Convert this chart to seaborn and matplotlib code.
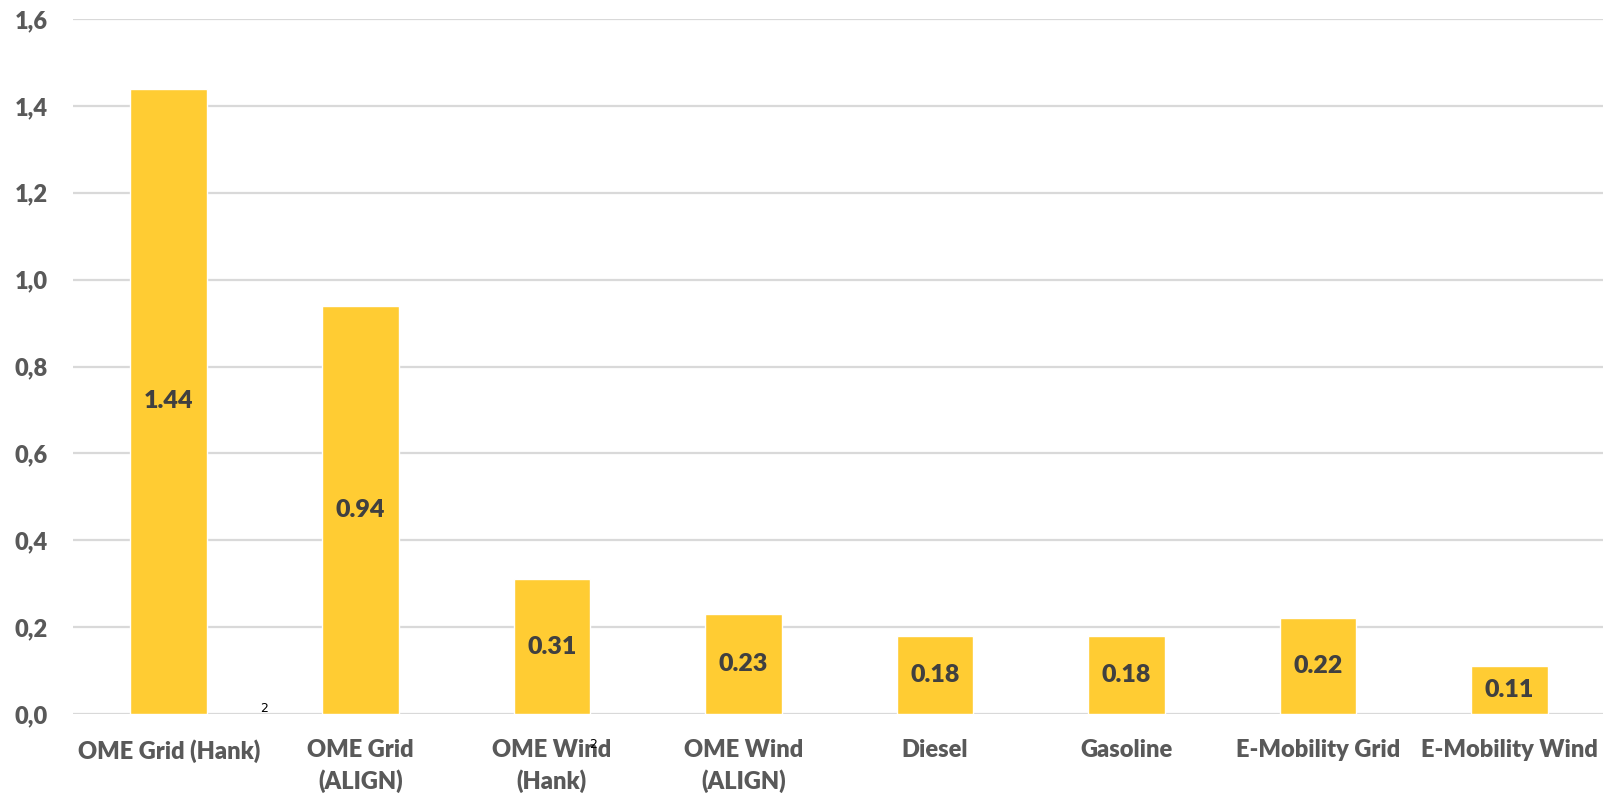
import matplotlib
matplotlib.use("Agg")
import matplotlib.pyplot as plt
import seaborn as sns
import pandas as pd
import numpy as np

# Values per fuel / drive pathway
categories = [
    "OME Grid (Hank)",
    "OME Grid\n(ALIGN)",
    "OME Wind\n(Hank)",
    "OME Wind\n(ALIGN)",
    "Diesel",
    "Gasoline",
    "E-Mobility Grid",
    "E-Mobility Wind",
]
values = [1.44, 0.94, 0.31, 0.23, 0.18, 0.18, 0.22, 0.11]
value_labels = ["1.44", "0.94", "0.31", "0.23", "0.18", "0.18", "0.22", "0.11"]
y_ticks = [0.0, 0.2, 0.4, 0.6, 0.8, 1.0, 1.2, 1.4, 1.6]
y_tick_labels = ["0,0", "0,2", "0,4", "0,6", "0,8", "1,0", "1,2", "1,4", "1,6"]

sns.set_theme(style="white")
plt.rcParams["font.family"] = ["Lato", "DejaVu Sans"]

df = pd.DataFrame({"category": categories, "value": values})

fig = plt.figure(figsize=(16.03, 7.93), dpi=100)
ax = fig.add_axes([0.0455, 0.0996, 0.956, 0.8764])

sns.barplot(data=df, x="category", y="value", color="#FFCC33",
            saturation=1, width=0.4, ax=ax)

ax.set_ylim(0, 1.6)
ax.set_yticks(y_ticks)
ax.set_yticklabels(y_tick_labels)
ax.yaxis.grid(True, color="#D9D9D9", linewidth=1.6)
ax.set_axisbelow(True)
ax.set_xlabel("")
ax.set_ylabel("")
for s in ax.spines.values():
    s.set_visible(False)
ax.tick_params(axis="both", length=0, colors="#595959", labelsize=17)
ax.tick_params(axis="y", pad=18)
ax.tick_params(axis="x", pad=18)
for lbl in ax.get_xticklabels() + ax.get_yticklabels():
    lbl.set_fontweight("heavy")
    lbl.set_color("#595959")
    lbl.set_linespacing(1.4)
ax.set_xlim(-0.5, len(categories) - 0.5)

ax.bar_label(ax.containers[0], labels=value_labels, label_type="center",
             fontsize=18, fontweight="heavy", color="#404040")

# Stray footnote markers
fig.text(264 / 1603, 1 - 708 / 793, "2", fontsize=9, color="black",
         ha="center", va="center", family="DejaVu Sans")
fig.text(593 / 1603, 1 - 745 / 793, "2", fontsize=9, color="black",
         ha="center", va="center", family="DejaVu Sans")

fig.savefig("out.png", dpi=100)
